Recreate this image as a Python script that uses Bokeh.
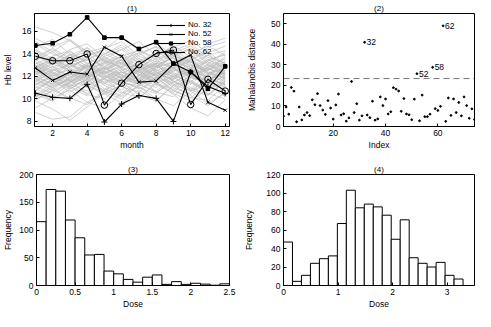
import numpy as np
from bokeh.plotting import figure
from bokeh.layouts import column, row
from bokeh.models import FixedTicker, Span, Range1d, Legend, LegendItem, NumeralTickFormatter
from bokeh.embed import file_html
from bokeh.resources import INLINE
from bokeh.core.properties import value

FONT = "Liberation Sans"
FS = "8.5px"

# ---------------- panel (1): Hb level by month ----------------
months = [1, 2, 3, 4, 5, 6, 7, 8, 9, 10, 11, 12]
no32 = [10.5, 10.15, 10.05, 11.3, 7.95, 9.55, 10.3, 10.05, 8.0, 12.4, 11.1, 10.5]
no52 = [12.75, 11.65, 12.4, 12.2, 14.6, 13.8, 11.5, 11.6, 13.1, 13.9, 9.7, 9.0]
no58 = [14.75, 14.95, 15.75, 17.25, 15.45, 15.45, 14.45, 15.05, 13.15, 12.4, 10.9, 12.9]
no62 = [13.8, 13.4, 13.4, 14.0, 9.45, 11.4, 13.05, 14.05, 14.35, 9.5, 11.75, 10.7]

others = [
    [16.4, 15.9, 15.2, 14.1, 14.6, 13.8, 14.3, 13.5, 14.0, 13.2, 13.9, 13.1],
    [15.4, 14.6, 15.3, 14.2, 13.5, 14.4, 15.1, 13.9, 14.6, 15.2, 14.1, 14.7],
    [8.8, 8.2, 8.4, 9.7, 10.5, 9.6, 10.8, 9.9, 11.2, 10.3, 9.4, 10.6],
    [9.8, 9.1, 8.1, 9.3, 10.6, 11.2, 10.0, 11.5, 10.4, 9.2, 8.5, 9.9],
    [12.2, 12.9, 11.6, 12.5, 13.4, 12.1, 11.5, 12.8, 13.3, 11.9, 11.4, 12.6],
    [11.3, 12.1, 12.6, 11.4, 10.8, 12.3, 12.9, 12.0, 11.2, 12.1, 12.8, 11.7],
    [13.3, 12.5, 13.7, 14.2, 12.6, 13.5, 12.3, 13.2, 14.0, 12.8, 12.1, 13.4],
    [10.7, 11.8, 11.0, 10.3, 12.1, 11.1, 10.6, 11.9, 12.4, 11.0, 10.4, 11.6],
    [12.9, 13.6, 12.7, 11.9, 12.8, 13.9, 12.9, 12.2, 11.8, 13.5, 14.1, 12.4],
    [11.8, 11.0, 11.9, 12.9, 11.7, 11.2, 12.6, 13.1, 11.6, 10.8, 11.7, 12.5],
    [14.3, 13.4, 14.2, 13.1, 14.0, 14.8, 13.6, 12.9, 13.8, 14.4, 13.1, 14.2],
    [10.1, 11.2, 11.7, 10.4, 10.0, 11.3, 12.0, 10.6, 10.2, 11.6, 10.4, 11.4],
    [12.5, 11.8, 12.9, 13.6, 12.2, 11.5, 12.1, 13.2, 12.8, 11.9, 11.6, 12.9],
    [13.7, 14.5, 13.6, 12.7, 13.8, 12.6, 13.1, 14.3, 13.2, 12.4, 13.5, 13.9],
    [11.0, 11.7, 10.6, 11.5, 12.4, 11.5, 11.0, 10.5, 11.8, 12.5, 11.6, 10.8],
    [12.8, 12.1, 11.9, 12.9, 13.6, 12.7, 12.2, 11.7, 12.8, 13.4, 12.3, 11.9],
    [14.9, 14.0, 13.5, 14.6, 13.3, 12.9, 14.1, 14.6, 13.3, 12.8, 13.9, 14.3],
    [10.4, 9.8, 10.9, 11.8, 10.7, 10.2, 11.1, 11.9, 10.8, 10.1, 9.9, 11.2],
    [12.3, 13.1, 13.7, 12.6, 11.9, 12.8, 13.6, 12.4, 11.7, 12.7, 13.3, 12.2],
    [11.6, 12.4, 11.3, 10.7, 11.9, 12.6, 11.6, 11.0, 12.2, 12.7, 11.8, 11.2],
    [14.0, 13.1, 12.6, 13.8, 14.4, 13.4, 12.7, 13.9, 14.5, 13.3, 12.6, 13.6],
    [11.1, 10.5, 11.5, 12.3, 11.2, 10.5, 11.8, 12.4, 11.3, 10.7, 11.7, 12.3],
    [12.6, 13.4, 12.5, 11.8, 13.1, 13.7, 12.6, 12.0, 12.9, 13.5, 12.3, 11.8],
    [9.9, 10.8, 10.1, 9.5, 10.8, 11.5, 10.4, 9.8, 11.2, 11.7, 10.5, 10.0],
    [12.0, 11.3, 12.3, 13.0, 12.1, 11.4, 11.2, 12.3, 12.8, 11.5, 11.0, 12.2],
    [13.5, 12.7, 13.9, 14.5, 13.4, 12.8, 13.9, 14.7, 13.6, 13.0, 12.5, 13.8],
    [11.5, 12.5, 13.1, 12.0, 11.3, 12.5, 13.1, 12.0, 11.4, 12.4, 13.0, 12.1],
    [12.5, 11.6, 11.1, 12.2, 12.8, 11.8, 11.3, 12.5, 13.1, 12.0, 11.4, 11.1],
    [14.6, 15.3, 14.0, 13.4, 14.5, 15.1, 13.8, 13.3, 14.3, 14.9, 13.7, 13.2],
    [10.8, 11.6, 12.3, 11.2, 10.6, 11.9, 12.5, 11.4, 10.8, 12.1, 12.6, 11.3],
    [12.1, 12.9, 12.0, 11.4, 12.6, 13.2, 12.1, 11.5, 12.7, 13.3, 12.2, 11.6],
    [13.2, 12.4, 11.7, 12.9, 13.5, 12.4, 11.8, 13.1, 13.6, 12.5, 12.0, 13.2],
    [11.4, 10.8, 11.9, 12.5, 11.4, 10.8, 12.1, 12.6, 11.5, 10.9, 12.2, 12.7],
    [12.7, 13.6, 12.5, 11.9, 13.2, 13.8, 12.7, 12.1, 13.4, 13.9, 12.7, 12.2],
    [10.2, 11.0, 9.9, 11.2, 11.8, 10.6, 10.1, 11.4, 12.0, 10.8, 10.3, 11.5],
    [13.9, 13.0, 14.0, 12.8, 12.3, 13.5, 14.1, 13.0, 12.4, 13.7, 14.2, 13.1],
    [11.7, 12.7, 11.6, 11.1, 12.3, 12.9, 11.8, 11.2, 12.5, 13.0, 11.9, 11.3],
    [13.0, 12.2, 13.2, 13.8, 12.7, 12.1, 13.4, 13.9, 12.7, 12.2, 13.4, 14.0],
    [15.1, 14.2, 15.2, 13.9, 14.4, 15.6, 14.3, 13.7, 14.8, 13.7, 14.9, 15.4],
    [9.2, 10.1, 10.8, 9.7, 9.2, 10.5, 11.1, 10.0, 9.4, 10.7, 11.3, 10.2],
    [12.0, 11.3, 12.5, 13.1, 12.0, 11.4, 12.7, 13.2, 12.1, 11.5, 12.8, 13.3],
    [13.4, 14.2, 13.1, 12.5, 13.8, 14.4, 13.2, 12.6, 13.9, 14.5, 13.3, 12.7],
    [10.9, 10.2, 11.4, 12.0, 10.9, 10.3, 11.6, 12.2, 11.0, 10.4, 11.7, 12.3],
    [12.4, 13.4, 12.3, 11.7, 12.9, 13.5, 12.4, 11.8, 13.1, 13.6, 12.4, 11.9],
    [14.1, 13.2, 14.4, 14.9, 13.7, 13.1, 14.5, 15.0, 13.8, 13.3, 14.6, 15.1],
    [11.2, 12.2, 11.1, 10.5, 11.8, 12.4, 11.3, 10.7, 12.0, 12.5, 11.4, 10.8],
    [12.9, 11.9, 11.4, 12.6, 13.2, 12.1, 11.5, 12.8, 13.3, 12.1, 11.6, 12.9],
    [10.6, 9.9, 11.1, 11.7, 10.6, 10.0, 11.3, 11.9, 10.7, 10.1, 11.4, 12.0],
    [13.6, 14.4, 13.3, 12.7, 14.0, 14.6, 13.4, 12.8, 14.1, 14.7, 13.5, 12.9],
    [11.8, 11.1, 12.3, 12.9, 11.8, 11.2, 12.5, 13.0, 11.9, 11.3, 12.6, 13.1],
    [12.3, 11.5, 10.9, 11.8, 12.7, 13.3, 12.2, 11.4, 10.6, 11.9, 12.8, 12.0],
    [13.1, 13.8, 14.3, 13.2, 12.5, 11.9, 12.8, 13.6, 14.2, 13.1, 12.3, 12.8],
    [11.9, 12.6, 12.1, 13.0, 12.4, 11.6, 10.9, 11.7, 12.6, 12.0, 13.1, 12.5],
    [10.3, 11.4, 12.2, 11.6, 12.5, 11.8, 12.6, 11.3, 10.5, 9.8, 10.9, 11.8],
    [12.7, 12.0, 13.1, 12.3, 11.5, 12.4, 11.7, 12.9, 13.7, 12.6, 11.8, 11.3],
    [14.4, 13.6, 12.9, 13.5, 14.1, 13.2, 12.5, 13.4, 12.8, 14.0, 14.7, 13.9],
    [11.3, 11.9, 11.2, 12.1, 12.8, 11.9, 13.0, 12.4, 11.6, 10.7, 9.6, 10.5],
    [12.4, 13.2, 13.9, 12.9, 12.2, 13.1, 12.4, 11.8, 12.7, 11.9, 12.9, 13.6],
    [10.0, 10.7, 11.5, 12.2, 11.4, 12.0, 11.3, 10.6, 11.5, 12.3, 11.6, 12.4],
    [13.0, 12.3, 11.5, 12.4, 13.3, 14.0, 13.2, 12.6, 12.0, 12.8, 13.5, 12.7],
    [11.6, 11.0, 11.8, 11.2, 10.4, 11.3, 12.1, 12.9, 12.2, 11.4, 10.8, 11.6],
    [12.8, 13.5, 12.8, 13.6, 12.9, 12.1, 11.4, 12.2, 13.0, 13.8, 13.0, 12.3],
]

# ---------------- panel (2): Mahalanobis distance ----------------
maha = [5.0, 9.5, 6.0, 19.0, 17.2, 2.3, 9.5, 3.2, 5.6, 6.8,
        5.3, 13.0, 10.6, 16.0, 10.2, 8.0, 5.9, 12.6, 9.0, 3.6,
        10.5, 15.8, 5.6, 6.2, 2.6, 4.2, 21.9, 6.8, 11.1, 3.1,
        5.2, 41.0, 5.6, 4.3, 12.3, 3.1, 3.7, 14.4, 10.2, 13.4,
        6.1, 7.2, 18.9, 18.2, 17.3, 7.4, 13.6, 6.1, 5.7, 3.3,
        13.3, 25.7, 2.8, 15.3, 4.8, 4.8, 6.0, 28.8, 8.7, 7.8,
        9.8, 49.0, 2.5, 13.9, 5.4, 13.4, 6.8, 11.7, 5.2, 14.4,
        10.2, 4.0, 8.6, 3.4]
index = list(range(1, len(maha) + 1))
threshold = 23.34
outliers = [32, 52, 58, 62]

# ---------------- panel (3) and (4): dose histograms ----------------
dose3_counts = [115, 173, 170, 118, 86, 55, 56, 26, 21, 11,
                6, 15, 19, 2, 7, 2, 4, 2.5, 0.5, 3]
dose3_edges = np.linspace(0, 2.5, len(dose3_counts) + 1)
dose4_counts = [47, 4.5, 11, 24, 29, 32, 67, 103, 84, 88,
                85, 76, 50, 71, 30, 24, 20, 25, 11, 7]
dose4_edges = np.linspace(0, 3.29, len(dose4_counts) + 1)


def style(p, title, xlabel, ylabel, xticks, yticks, ylab_standoff):
    p.title.text = title
    p.title.align = "center"
    p.title.text_font = FONT
    p.title.text_font_size = "8px"
    p.title.text_font_style = "normal"
    p.title.text_color = "black"
    p.title.standoff = 2
    p.xgrid.visible = False
    p.ygrid.visible = False
    p.outline_line_color = "black"
    p.outline_line_alpha = 1
    p.outline_line_width = 1
    p.background_fill_color = "white"
    p.border_fill_color = "white"
    for ax in (p.xaxis[0], p.yaxis[0]):
        ax.major_tick_in = 3
        ax.major_tick_out = 0
        ax.major_tick_line_color = "black"
        ax.minor_tick_line_color = None
        ax.axis_line_color = "black"
        ax.major_label_text_font = FONT
        ax.major_label_text_font_size = FS
        ax.major_label_text_color = "black"
        ax.axis_label_text_font = FONT
        ax.axis_label_text_font_size = FS
        ax.axis_label_text_font_style = "normal"
        ax.axis_label_text_color = "black"
        ax.major_label_standoff = 3
    p.xaxis[0].axis_label = xlabel
    p.yaxis[0].axis_label = ylabel
    p.xaxis[0].axis_label_standoff = 1
    p.yaxis[0].axis_label_standoff = ylab_standoff
    p.xaxis[0].ticker = FixedTicker(ticks=xticks)
    p.yaxis[0].ticker = FixedTicker(ticks=yticks)
    p.xaxis[0].formatter = NumeralTickFormatter(format="0.[0]")
    p.yaxis[0].formatter = NumeralTickFormatter(format="0.[0]")


TOP_H, BOT_H = 152, 159
L_W, R_W = 237, 238

# panel 1
p1 = figure(width=L_W, height=TOP_H, output_backend="svg", toolbar_location=None,
            x_range=Range1d(0.95, 12.25), y_range=Range1d(7.55, 17.6),
            min_border_left=31, min_border_right=8, min_border_top=12, min_border_bottom=25)
style(p1, "(1)", "month", "Hb level", [2, 4, 6, 8, 10, 12], [8, 10, 12, 14, 16], 6)
p1.multi_line(xs=[months] * len(others), ys=others, line_color="#bdbdbd", line_width=0.7)

series = [
    ("No. 32", no32, "cross", 6, "black"),
    ("No. 52", no52, "x", 4.5, "black"),
    ("No. 58", no58, "square", 3.6, "black"),
    ("No. 62", no62, "circle", 6.5, None),
]
items = []
for label, ys, marker, size, fill in series:
    ln = p1.line(months, ys, line_color="black", line_width=1.1)
    sc = p1.scatter(months, ys, marker=marker, size=size, line_color="black",
                    fill_color=fill, line_width=1)
    items.append(LegendItem(label=label, renderers=[ln, sc]))
leg = Legend(items=items, location=(122, 70), padding=0, margin=0, spacing=0,
             glyph_width=29, glyph_height=8, label_height=8, label_standoff=3,
             background_fill_alpha=0, border_line_alpha=0,
             label_text_font=FONT, label_text_font_size="8px", label_text_color="black")
p1.add_layout(leg)

# panel 2
p2 = figure(width=R_W, height=TOP_H, output_backend="svg", toolbar_location=None,
            x_range=Range1d(1, 74), y_range=Range1d(0, 55),
            min_border_left=46, min_border_right=1, min_border_top=12, min_border_bottom=25)
style(p2, "(2)", "Index", "Mahalanobis distance", [20, 40, 60], [0, 10, 20, 30, 40, 50], 11)
p2.scatter(index, maha, marker="circle", size=1.8, color="black")
p2.add_layout(Span(location=threshold, dimension="width", line_color="#666666",
                   line_dash="6 4", line_width=0.9))
p2.text(x=outliers, y=[maha[i - 1] for i in outliers], text=[str(i) for i in outliers],
        x_offset=2, text_baseline="middle", text_align="left",
        text_font=value(FONT), text_font_size="8.5px", text_color="black")

# panel 3
p3 = figure(width=L_W, height=BOT_H, output_backend="svg", toolbar_location=None,
            x_range=Range1d(0, 2.5), y_range=Range1d(0, 200),
            min_border_left=31, min_border_right=8, min_border_top=22, min_border_bottom=24)
style(p3, "(3)", "Dose", "Frequency", [0, 0.5, 1, 1.5, 2, 2.5], [0, 50, 100, 150, 200], 3)
p3.quad(left=dose3_edges[:-1], right=dose3_edges[1:], bottom=0, top=dose3_counts,
        fill_color="white", line_color="black", line_width=1)

# panel 4
p4 = figure(width=R_W, height=BOT_H, output_backend="svg", toolbar_location=None,
            x_range=Range1d(0, 3.5), y_range=Range1d(0, 120),
            min_border_left=46, min_border_right=1, min_border_top=22, min_border_bottom=24)
style(p4, "(4)", "Dose", "Frequency", [0, 1, 2, 3], [0, 20, 40, 60, 80, 100, 120], 9)
p4.quad(left=dose4_edges[:-1], right=dose4_edges[1:], bottom=0, top=dose4_counts,
        fill_color="white", line_color="black", line_width=1)

layout = column(row(p1, p2), row(p3, p4))
open("out.html", "w").write(file_html(layout, INLINE))
